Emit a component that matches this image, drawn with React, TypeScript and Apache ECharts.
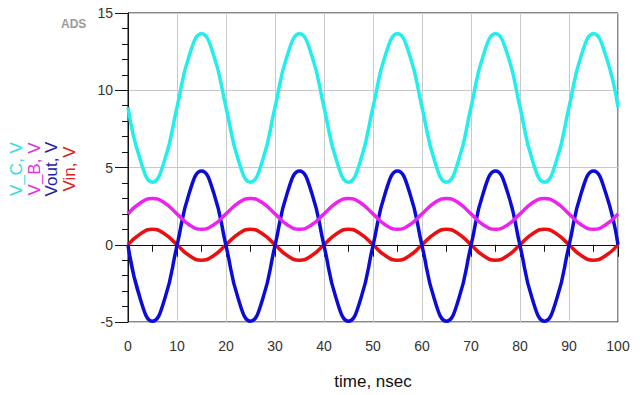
import React, { useEffect, useRef } from "react";
import * as echarts from "echarts";

const times = [0, 2.5, 5, 7.5, 10, 12.5, 15, 17.5, 20, 22.5, 25, 27.5, 30, 32.5, 35, 37.5, 40, 42.5, 45, 47.5, 50, 52.5, 55, 57.5, 60, 62.5, 65, 67.5, 70, 72.5, 75, 77.5, 80, 82.5, 85, 87.5, 90, 92.5, 95, 97.5, 100];

const vC = [8.9, 5.5, 4.05, 5.5, 8.9, 12.25, 13.65, 12.25, 8.9, 5.5, 4.05, 5.5, 8.9, 12.25, 13.65, 12.25, 8.9, 5.5, 4.05, 5.5, 8.9, 12.25, 13.65, 12.25, 8.9, 5.5, 4.05, 5.5, 8.9, 12.25, 13.65, 12.25, 8.9, 5.5, 4.05, 5.5, 8.9, 12.25, 13.65, 12.25, 8.9];
const vB = [2.0, 2.7, 3.0, 2.7, 2.0, 1.3, 1.0, 1.3, 2.0, 2.7, 3.0, 2.7, 2.0, 1.3, 1.0, 1.3, 2.0, 2.7, 3.0, 2.7, 2.0, 1.3, 1.0, 1.3, 2.0, 2.7, 3.0, 2.7, 2.0, 1.3, 1.0, 1.3, 2.0, 2.7, 3.0, 2.7, 2.0, 1.3, 1.0, 1.3, 2.0];
const vOut = [0.0, -3.5, -4.95, -3.5, -0.05, 3.35, 4.78, 3.35, -0.05, -3.5, -4.95, -3.5, -0.05, 3.35, 4.78, 3.35, -0.05, -3.5, -4.95, -3.5, -0.05, 3.35, 4.78, 3.35, -0.05, -3.5, -4.95, -3.5, -0.05, 3.35, 4.78, 3.35, -0.05, -3.5, -4.95, -3.5, -0.05, 3.35, 4.78, 3.35, 0.0];
const vIn = [0.0, 0.7, 1.0, 0.7, 0.0, -0.7, -1.0, -0.7, 0.0, 0.7, 1.0, 0.7, 0.0, -0.7, -1.0, -0.7, 0.0, 0.7, 1.0, 0.7, 0.0, -0.7, -1.0, -0.7, 0.0, 0.7, 1.0, 0.7, 0.0, -0.7, -1.0, -0.7, 0.0, 0.7, 1.0, 0.7, 0.0, -0.7, -1.0, -0.7, 0.0];

const legendNames = ["V_C, V", "V_B, V", "Vout, V", "Vin, V"];
const lineColors = ["#22eeee", "#ee22ee", "#0c0cd8", "#e81010"];
const legendColors = ["#33dddd", "#dd33dd", "#2222aa", "#dd2222"];

const FONT = "'Liberation Sans', Arial, sans-serif";

export default function App() {
  const ref = useRef<HTMLDivElement>(null);
  useEffect(() => {
    const chart = echarts.init(ref.current!, null, { renderer: "svg" });
    const seriesData = [vC, vB, vOut, vIn];
    const legendX = [16, 34, 51, 69];
    chart.setOption({
      animation: false,
      backgroundColor: "#ffffff",
      grid: {
        left: 128,
        right: 22,
        top: 13,
        bottom: 71,
        show: true,
        borderColor: "#111",
        borderWidth: 1,
        backgroundColor: "transparent",
      },
      xAxis: {
        type: "value",
        min: 0,
        max: 100,
        interval: 10,
        name: "time, nsec",
        nameLocation: "middle",
        nameGap: 51,
        nameTextStyle: { fontFamily: FONT, fontSize: 17, color: "#111" },
        axisLine: { show: true, lineStyle: { color: "#111", width: 1 } },
        axisTick: { show: true, length: 12, lineStyle: { color: "#111" } },
        minorTick: { show: true, splitNumber: 2, length: 7, lineStyle: { color: "#111" } },
        axisLabel: { fontFamily: FONT, fontSize: 14, color: "#333", margin: 17 },
        splitLine: { show: true, lineStyle: { color: "#c8c8c8", width: 1 } },
      },
      yAxis: {
        type: "value",
        min: -5,
        max: 15,
        interval: 5,
        axisLine: { show: true, lineStyle: { color: "#111", width: 1 } },
        axisTick: { show: true, length: 13, lineStyle: { color: "#111" } },
        minorTick: { show: true, splitNumber: 5, length: 6, lineStyle: { color: "#111" } },
        axisLabel: { fontFamily: FONT, fontSize: 14, color: "#333", margin: 15 },
        splitLine: { show: true, lineStyle: { color: "#c8c8c8", width: 1 } },
      },
      series: seriesData.map((d, i) => ({
        name: legendNames[i],
        type: "line",
        data: times.map((t, k) => [t, d[k]]),
        smooth: true,
        showSymbol: false,
        lineStyle: { color: lineColors[i], width: 3.5 },
        z: 10 - i,
      })),
      graphic: [
        {
          type: "text",
          left: 61,
          top: 18,
          style: { text: "ADS", fontFamily: FONT, fontSize: 12, fontWeight: "bold", fill: "#9a9a9a" },
        },
        ...legendNames.map((n, i) => ({
          type: "text",
          x: legendX[i],
          y: 169,
          rotation: Math.PI / 2,
          style: {
            text: n,
            fontFamily: FONT,
            fontSize: 17,
            fill: legendColors[i],
            align: "center",
            verticalAlign: "middle",
          },
        })),
      ],
    });
    return () => chart.dispose();
  }, []);
  return <div ref={ref} style={{ width: 640, height: 395, position: "absolute", left: 0, top: 0 }} />;
}
